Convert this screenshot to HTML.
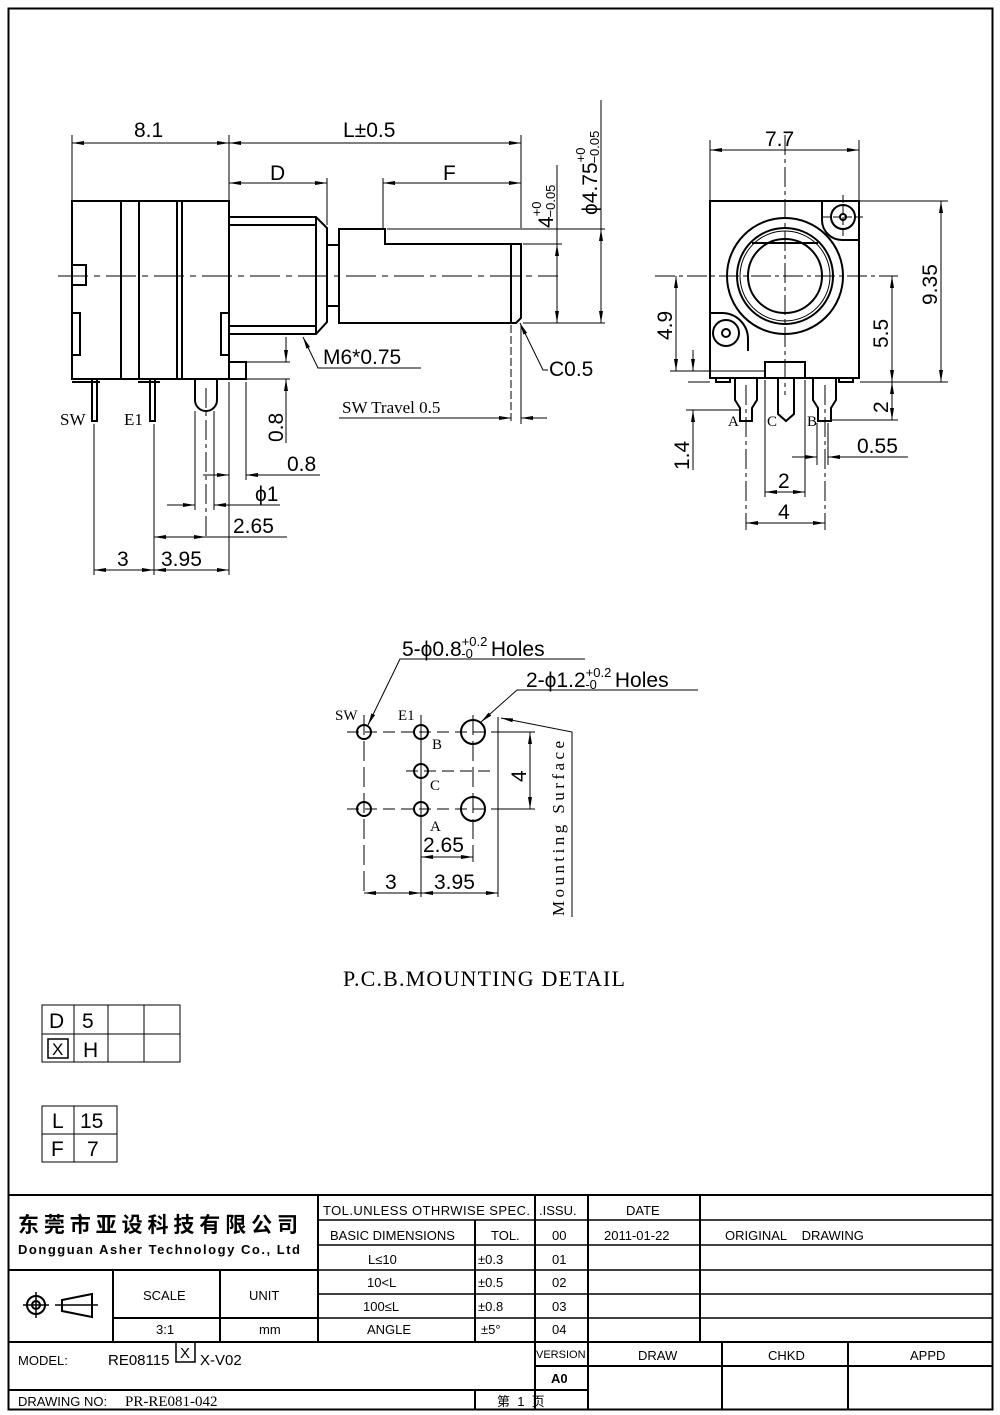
<!DOCTYPE html>
<html><head><meta charset="utf-8"><style>
html,body{margin:0;padding:0;background:#fff}
svg{display:block}
text{font-family:"Liberation Sans","Noto Sans CJK SC",sans-serif;fill:#000}
.s text, text.s{font-family:"Liberation Serif","Noto Serif CJK SC",serif}
</style></head><body>
<svg width="1000" height="1415" viewBox="0 0 1000 1415" xmlns="http://www.w3.org/2000/svg">
<defs>
<marker id="a" viewBox="0 0 12 4" refX="12" refY="2" markerWidth="12" markerHeight="4" markerUnits="userSpaceOnUse" orient="auto-start-reverse"><path d="M0,0L12,2L0,4z" fill="#000"/></marker>
</defs>
<rect x="0" y="0" width="1000" height="1415" fill="#fff"/>
<rect x="8.5" y="8.5" width="984" height="1401" fill="none" stroke="#000" stroke-width="2"/>

<g fill="none" stroke="#000" stroke-width="1">
<g stroke-width="2">
<rect x="72" y="201" width="157" height="178"/>
<line x1="121" y1="201" x2="121" y2="379"/><line x1="139" y1="201" x2="139" y2="379"/>
<line x1="177" y1="201" x2="177" y2="379"/><line x1="182" y1="201" x2="182" y2="379"/>
<rect x="72" y="265" width="14" height="20"/>
<rect x="72" y="313" width="8" height="42"/>
<rect x="221" y="313" width="8" height="42"/>
<path d="M229 362H246V379H229"/>
<path d="M229 217H316L327 228V322L316 334H229"/>
<line x1="229" y1="225" x2="316" y2="225"/><line x1="229" y1="326" x2="316" y2="326"/><line x1="316" y1="217" x2="316" y2="334"/>
<path d="M327 245H339M327 306H339"/>
<path d="M339 229H385V244H521V318L516 323H339Z"/>
<line x1="511" y1="244" x2="511" y2="323"/>
<rect x="92" y="379" width="5" height="42"/><rect x="150" y="379" width="5" height="42"/>
<path d="M72 382H100M138 382H160"/>
<path d="M195 379V400A11 11 0 0 0 217 400V379"/>
</g>
<line x1="58" y1="276" x2="558" y2="276" stroke-dasharray="30,6,6,6"/>
<line x1="206" y1="388" x2="206" y2="540" stroke-dasharray="20,4,4,4"/>
<line x1="72" y1="135" x2="72" y2="200"/><line x1="229" y1="135" x2="229" y2="216"/><line x1="521" y1="135" x2="521" y2="228"/>
<line x1="72" y1="143" x2="229" y2="143" marker-start="url(#a)" marker-end="url(#a)"/>
<line x1="229" y1="143" x2="521" y2="143" marker-start="url(#a)" marker-end="url(#a)"/>
<line x1="327" y1="178" x2="327" y2="225"/><line x1="383" y1="178" x2="383" y2="228"/>
<line x1="229" y1="183" x2="327" y2="183" marker-start="url(#a)" marker-end="url(#a)"/>
<line x1="383" y1="183" x2="521" y2="183" marker-start="url(#a)" marker-end="url(#a)"/>
<line x1="387" y1="229" x2="605" y2="229"/><line x1="523" y1="244" x2="562" y2="244"/><line x1="523" y1="323" x2="605" y2="323"/>
<line x1="557" y1="165" x2="557" y2="323"/><line x1="557" y1="244" x2="557" y2="323" marker-start="url(#a)" marker-end="url(#a)"/>
<line x1="601" y1="100" x2="601" y2="323"/><line x1="601" y1="229" x2="601" y2="323" marker-start="url(#a)" marker-end="url(#a)"/>
<path d="M303 337L318 368H421" marker-start="url(#a)"/>
<path d="M520 323L543 370H548" marker-start="url(#a)"/>
<line x1="511" y1="325" x2="511" y2="424" stroke-dasharray="8,3"/><line x1="521" y1="325" x2="521" y2="424"/>
<line x1="339" y1="418" x2="511" y2="418" marker-end="url(#a)"/><line x1="547" y1="418" x2="521" y2="418" marker-end="url(#a)"/>
<line x1="247" y1="362" x2="290" y2="362"/><line x1="247" y1="379" x2="290" y2="379"/>
<line x1="286" y1="337" x2="286" y2="362" marker-end="url(#a)"/><line x1="286" y1="443" x2="286" y2="379" marker-end="url(#a)"/>
<line x1="246" y1="382" x2="246" y2="480"/><line x1="229" y1="382" x2="229" y2="575"/>
<line x1="214" y1="411" x2="214" y2="510"/><line x1="195" y1="411" x2="195" y2="510"/>
<line x1="203" y1="475" x2="229" y2="475" marker-end="url(#a)"/><line x1="320" y1="475" x2="246" y2="475" marker-end="url(#a)"/>
<line x1="167" y1="505" x2="195" y2="505" marker-end="url(#a)"/><line x1="280" y1="505" x2="214" y2="505" marker-end="url(#a)"/>
<line x1="94" y1="424" x2="94" y2="575"/><line x1="154" y1="424" x2="154" y2="575"/>
<line x1="154" y1="537" x2="206" y2="537" marker-start="url(#a)" marker-end="url(#a)"/><line x1="206" y1="537" x2="287" y2="537"/>
<line x1="94" y1="570" x2="154" y2="570" marker-start="url(#a)" marker-end="url(#a)"/>
<line x1="154" y1="570" x2="229" y2="570" marker-start="url(#a)" marker-end="url(#a)"/>

<g stroke-width="2">
<rect x="710" y="201" width="149" height="177"/>
<circle cx="785" cy="276" r="58"/>
<circle cx="785" cy="276" r="48"/><circle cx="785" cy="276" r="45" stroke-width="1"/>
<circle cx="785" cy="276" r="37"/>
<line x1="752" y1="243" x2="818" y2="243"/>
<path d="M822 201V220A20 20 0 0 0 842 240H859"/>
<circle cx="843" cy="217" r="12"/><circle cx="843" cy="217" r="3"/>
<path d="M710 313H722A26 26 0 0 1 748 339V351"/>
<circle cx="726" cy="333" r="13"/><circle cx="726" cy="333" r="4"/>
<rect x="765" y="362" width="40" height="16"/>
<path d="M716 378V382H730V378M839 378V382H853V378"/>
<path d="M735 378V400L740 408V421H752V408L757 400V378"/>
<path d="M778 378V414L786 421L794 414V378"/>
<path d="M813 378V400L818 408V421H831V408L836 400V378"/>
</g>
<line x1="785" y1="135" x2="785" y2="395" stroke-dasharray="20,4,4,4"/>
<line x1="655" y1="276" x2="898" y2="276" stroke-dasharray="20,4,4,4"/>
<line x1="843" y1="195" x2="843" y2="240" stroke-dasharray="8,3"/><line x1="822" y1="217" x2="865" y2="217" stroke-dasharray="8,3"/>
<line x1="746" y1="385" x2="746" y2="530" stroke-dasharray="20,4,4,4"/><line x1="825" y1="385" x2="825" y2="530" stroke-dasharray="20,4,4,4"/>
<line x1="710" y1="140" x2="710" y2="200"/><line x1="859" y1="140" x2="859" y2="200"/>
<line x1="710" y1="150" x2="859" y2="150" marker-start="url(#a)" marker-end="url(#a)"/>
<line x1="860" y1="201" x2="948" y2="201"/><line x1="860" y1="382" x2="948" y2="382"/>
<line x1="941" y1="201" x2="941" y2="382" marker-start="url(#a)" marker-end="url(#a)"/>
<line x1="892" y1="276" x2="892" y2="382" marker-start="url(#a)" marker-end="url(#a)"/>
<line x1="892" y1="382" x2="892" y2="420" marker-start="url(#a)" marker-end="url(#a)"/>
<line x1="832" y1="420" x2="898" y2="420"/>
<line x1="670" y1="371" x2="765" y2="371"/><line x1="688" y1="382" x2="710" y2="382"/>
<line x1="676" y1="276" x2="676" y2="371" marker-start="url(#a)" marker-end="url(#a)"/>
<line x1="686" y1="410" x2="740" y2="410"/>
<line x1="693" y1="350" x2="693" y2="371" marker-end="url(#a)"/><line x1="693" y1="470" x2="693" y2="410" marker-end="url(#a)"/>
<line x1="817" y1="423" x2="817" y2="465"/><line x1="828" y1="423" x2="828" y2="465"/>
<line x1="792" y1="457" x2="817" y2="457" marker-end="url(#a)"/><line x1="908" y1="457" x2="828" y2="457" marker-end="url(#a)"/>
<line x1="765" y1="380" x2="765" y2="497"/><line x1="805" y1="380" x2="805" y2="497"/>
<line x1="765" y1="492" x2="805" y2="492" marker-start="url(#a)" marker-end="url(#a)"/>
<line x1="746" y1="523" x2="825" y2="523" marker-start="url(#a)" marker-end="url(#a)"/>

<g stroke-width="2">
<circle cx="364" cy="732" r="7"/><circle cx="421" cy="732" r="7"/><circle cx="473" cy="732" r="12"/>
<circle cx="421" cy="771" r="7"/><circle cx="421" cy="809" r="7"/><circle cx="364" cy="809" r="7"/><circle cx="473" cy="809" r="12"/>
</g>
<line x1="347" y1="732" x2="500" y2="732" stroke-dasharray="12,6"/>
<line x1="347" y1="809" x2="500" y2="809" stroke-dasharray="12,6"/>
<line x1="406" y1="771" x2="490" y2="771" stroke-dasharray="12,6"/>
<line x1="364" y1="715" x2="364" y2="897" stroke-dasharray="20,6"/>
<line x1="421" y1="715" x2="421" y2="897"/>
<line x1="473" y1="715" x2="473" y2="862" stroke-dasharray="20,6"/>
<line x1="498" y1="717" x2="498" y2="897"/>
<line x1="500" y1="732" x2="535" y2="732"/><line x1="500" y1="809" x2="535" y2="809"/>
<line x1="530" y1="732" x2="530" y2="809" marker-start="url(#a)" marker-end="url(#a)"/>
<line x1="421" y1="857" x2="473" y2="857" marker-start="url(#a)" marker-end="url(#a)"/>
<line x1="364" y1="893" x2="421" y2="893" marker-start="url(#a)" marker-end="url(#a)"/>
<line x1="421" y1="893" x2="498" y2="893" marker-start="url(#a)" marker-end="url(#a)"/>
<path d="M585 659H400L368 725" marker-end="url(#a)"/>
<path d="M698 690H517L481 722" marker-end="url(#a)"/>
<path d="M572 917V732L501 718" marker-end="url(#a)"/>

<rect x="42" y="1005" width="138" height="57"/>
<path d="M42 1034H180M74 1005V1062M108 1005V1062M144 1005V1062"/>
<rect x="48" y="1039" width="20" height="19" stroke-width="1.5"/>
<rect x="42" y="1106" width="75" height="56"/>
<path d="M42 1134H117M74 1106V1162"/>

<g stroke-width="2">
<line x1="8" y1="1195" x2="993" y2="1195"/>
<line x1="318" y1="1195" x2="318" y2="1342"/>
<line x1="475" y1="1220" x2="475" y2="1342"/>
<line x1="535" y1="1195" x2="535" y2="1410"/>
<line x1="588" y1="1195" x2="588" y2="1410"/>
<line x1="700" y1="1195" x2="700" y2="1342"/>
<line x1="8" y1="1270" x2="318" y2="1270"/>
<line x1="113" y1="1270" x2="113" y2="1342"/><line x1="220" y1="1270" x2="220" y2="1342"/>
<line x1="113" y1="1318" x2="318" y2="1318"/>
<line x1="8" y1="1342" x2="993" y2="1342"/>
<line x1="8" y1="1390" x2="588" y2="1390"/>
<line x1="535" y1="1366" x2="993" y2="1366"/>
<line x1="475" y1="1390" x2="475" y2="1410"/>
<line x1="722" y1="1342" x2="722" y2="1410"/><line x1="848" y1="1342" x2="848" y2="1410"/>
</g>
<g stroke-width="1.5">
<path d="M318 1220H993M318 1245H993M318 1270H993M318 1294H993M318 1318H993"/>
</g>
<rect x="176" y="1342" width="19" height="20" stroke-width="1.5"/>
<circle cx="36" cy="1305" r="9" stroke-width="2"/><circle cx="36" cy="1305" r="4" stroke-width="2"/>
<path d="M36 1292V1318M23 1305H49" stroke-width="1.5"/>
<path d="M62 1300L92 1294V1317L62 1311Z" stroke-width="2"/><path d="M55 1305H98" stroke-width="1.5"/>
</g>

<g font-size="21">
<text x="134" y="137">8.1</text>
<text x="343" y="137">L±0.5</text>
<text x="270" y="180">D</text>
<text x="443" y="180">F</text>
<text transform="translate(553,228) rotate(-90)">4<tspan font-size="13" dy="-12">+0</tspan><tspan font-size="13" dx="-16" dy="14">−0.05</tspan></text>
<text transform="translate(597,215) rotate(-90)">ϕ4.75<tspan font-size="13" dy="-12">+0</tspan><tspan font-size="13" dx="-16" dy="14">−0.05</tspan></text>
<text x="323" y="364">M6*0.75</text>
<text x="549" y="376">C0.5</text>
<text transform="translate(283,442) rotate(-90)">0.8</text>
<text x="287" y="471">0.8</text>
<text x="255" y="501">ϕ1</text>
<text x="233" y="533">2.65</text>
<text x="117" y="566">3</text>
<text x="161" y="566">3.95</text>
<text x="765" y="146">7.7</text>
<text transform="translate(937,305) rotate(-90)">9.35</text>
<text transform="translate(888,348) rotate(-90)">5.5</text>
<text transform="translate(888,413) rotate(-90)">2</text>
<text transform="translate(672,340) rotate(-90)">4.9</text>
<text transform="translate(689,470) rotate(-90)">1.4</text>
<text x="857" y="453">0.55</text>
<text x="778" y="488">2</text>
<text x="778" y="519">4</text>
<text x="402" y="656">5-ϕ0.8<tspan font-size="13" dy="-10">+0.2</tspan><tspan font-size="13" dx="-26" dy="12">-0</tspan><tspan dx="18" dy="-2">Holes</tspan></text>
<text x="526" y="687">2-ϕ1.2<tspan font-size="13" dy="-10">+0.2</tspan><tspan font-size="13" dx="-26" dy="12">-0</tspan><tspan dx="18" dy="-2">Holes</tspan></text>
<text transform="translate(526,782) rotate(-90)">4</text>
<text x="423" y="852">2.65</text>
<text x="385" y="889">3</text>
<text x="434" y="889">3.95</text>
<text x="49" y="1028">D</text><text x="82" y="1028">5</text>
<text x="52" y="1055" font-size="17">X</text><text x="83" y="1057">H</text>
<text x="52" y="1128">L</text><text x="80" y="1128">15</text>
<text x="51" y="1156">F</text><text x="87" y="1156">7</text>
</g>
<g class="s" font-size="17">
<text x="342" y="413">SW Travel 0.5</text>
<text x="60" y="425">SW</text><text x="124" y="425">E1</text>
<text x="728" y="426" font-size="15">A</text><text x="767" y="426" font-size="15">C</text><text x="807" y="426" font-size="15">B</text>
<text x="335" y="720" font-size="15">SW</text><text x="398" y="720" font-size="15">E1</text>
<text x="432" y="749" font-size="15">B</text><text x="430" y="790" font-size="15">C</text><text x="430" y="831" font-size="15">A</text>
<text transform="translate(564,916) rotate(-90)" textLength="175">Mounting Surface</text>
<text x="343" y="986" font-size="22" textLength="282">P.C.B.MOUNTING DETAIL</text>
</g>
<g font-size="13">
<text x="18" y="1232" font-size="21" font-weight="bold" textLength="280">东莞市亚设科技有限公司</text>
<text x="18" y="1254" font-weight="bold" textLength="282">Dongguan Asher Technology Co., Ltd</text>
<text x="323" y="1215" textLength="207">TOL.UNLESS OTHRWISE SPEC.</text>
<text x="539" y="1215">.ISSU.</text>
<text x="626" y="1215">DATE</text>
<text x="330" y="1240">BASIC DIMENSIONS</text>
<text x="491" y="1240">TOL.</text>
<text x="552" y="1240">00</text>
<text x="604" y="1240">2011-01-22</text>
<text x="725" y="1240">ORIGINAL&#160;&#160;&#160;&#160;DRAWING</text>
<text x="368" y="1264">L≤10</text><text x="478" y="1264">±0.3</text><text x="552" y="1264">01</text>
<text x="367" y="1287">10&lt;L</text><text x="478" y="1287">±0.5</text><text x="552" y="1287">02</text>
<text x="363" y="1311">100≤L</text><text x="478" y="1311">±0.8</text><text x="552" y="1311">03</text>
<text x="367" y="1334">ANGLE</text><text x="481" y="1334">±5°</text><text x="552" y="1334">04</text>
<text x="143" y="1300">SCALE</text><text x="249" y="1300">UNIT</text>
<text x="156" y="1334">3:1</text><text x="259" y="1334">mm</text>
<text x="18" y="1365">MODEL:</text>
<text x="108" y="1365" font-size="15">RE08115</text><text x="180" y="1358" font-size="15">X</text><text x="200" y="1365" font-size="15">X-V02</text>
<text x="536" y="1358" font-size="11">VERSION</text>
<text x="551" y="1383" font-weight="bold">A0</text>
<text x="638" y="1360">DRAW</text><text x="768" y="1360">CHKD</text><text x="910" y="1360">APPD</text>
<text x="18" y="1406">DRAWING NO:</text>
<text x="125" y="1406" class="s" font-size="15">PR-RE081-042</text>
<text x="497" y="1406">第&#160;&#160;1&#160;&#160;页</text>
</g>
</svg>
</body></html>
